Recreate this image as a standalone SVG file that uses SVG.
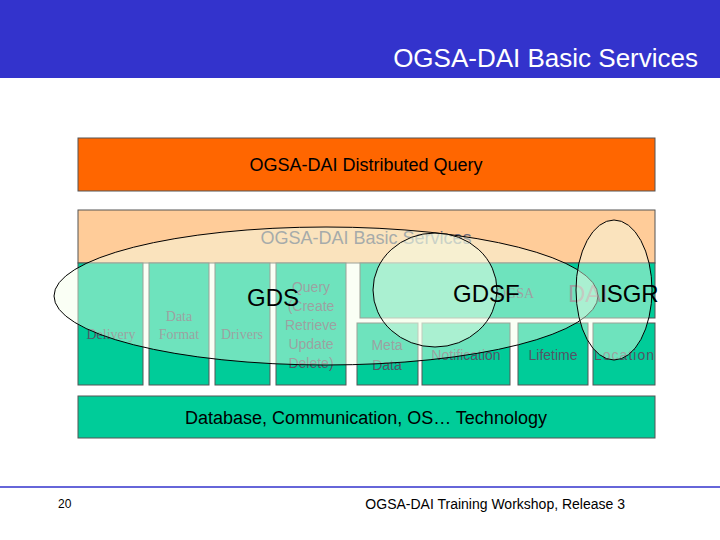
<svg xmlns="http://www.w3.org/2000/svg" width="720" height="540" viewBox="0 0 720 540">
<style>
text{font-family:"Liberation Sans",Arial,sans-serif}
.s{font-family:"Liberation Serif","Times New Roman",serif}
.g{fill:#00cc99;stroke:#555;stroke-width:1}
.e{fill:#f4ffe8;fill-opacity:0.45;stroke:#000;stroke-width:1}
.t{fill:#556;font-size:14px;text-anchor:middle}
</style>
<rect width="720" height="540" fill="#fff"/>
<rect width="720" height="78" fill="#3333cc"/>
<text x="698" y="67" font-size="26" fill="#fff" text-anchor="end">OGSA-DAI Basic Services</text>
<g id="dq"><rect x="78" y="138" width="577" height="53" fill="#ff6600" stroke="#555"/>
<text x="366" y="171" font-size="18" text-anchor="middle">OGSA-DAI Distributed Query</text></g>
<g id="bs"><rect x="78" y="210" width="577" height="53" fill="#ffcc99" stroke="#555"/>
<text x="366" y="244" font-size="18" fill="#667" text-anchor="middle">OGSA-DAI Basic Services</text></g>
<g id="delivery"><rect class="g" x="78" y="263" width="65" height="122"/></g>
<g id="format"><rect class="g" x="149" y="263" width="60" height="122"/></g>
<g id="drivers"><rect class="g" x="215" y="263" width="55" height="122"/></g>
<g id="query"><rect class="g" x="276" y="263" width="70" height="122"/></g>
<g id="ogsa"><rect class="g" x="360" y="263" width="295" height="55"/></g>
<g id="meta"><rect class="g" x="357" y="323" width="61" height="62"/></g>
<g id="notif"><rect class="g" x="422" y="323" width="88" height="62"/></g>
<g id="life"><rect class="g" x="518" y="323" width="70" height="62"/></g>
<g id="loc"><rect class="g" x="593" y="323" width="62" height="62"/></g>
<g id="tech"><rect class="g" x="78" y="396" width="577" height="42"/>
<text x="366" y="424" font-size="18" text-anchor="middle">Database, Communication, OS… Technology</text></g>
<text class="t s" x="111" y="339" fill="#333" font-size="15">Delivery</text>
<text class="t s" x="179" y="321" font-size="15">Data</text>
<text class="t s" x="179" y="339" font-size="15">Format</text>
<text class="t s" x="242" y="339" font-size="15">Drivers</text>
<text class="t" x="311" y="292">Query</text>
<text class="t" x="311" y="311">(Create</text>
<text class="t" x="311" y="330">Retrieve</text>
<text class="t" x="311" y="349">Update</text>
<text class="t" x="311" y="368">Delete)</text>
<text class="t s" x="515" y="298" font-size="16">OGSA</text>
<text x="568" y="302" font-size="24" fill="#556">DAI</text>
<text class="t" x="387" y="350" fill="#778">Meta</text>
<text class="t" x="387" y="370" fill="#000">Data</text>
<text class="t" x="466" y="360">Notification</text>
<text class="t" x="553" y="360" fill="#000">Lifetime</text>
<text class="t" x="624" y="360" fill="#000" textLength="60">Location</text>
<g id="ellipses">
<ellipse class="e" cx="326" cy="296" rx="272" ry="69"/>
<ellipse class="e" cx="435" cy="290" rx="62" ry="57"/>
<ellipse class="e" cx="614" cy="290" rx="38" ry="70"/>
</g>
<text x="247" y="306" font-size="24">GDS</text>
<text x="453" y="302" font-size="24">GDSF</text>
<text x="600" y="302" font-size="24">ISGR</text>
<line x1="0" y1="487" x2="720" y2="487" stroke="#3333cc" stroke-width="1.5"/>
<text x="58" y="508" font-size="12">20</text>
<text x="625" y="509" font-size="14" text-anchor="end">OGSA-DAI Training Workshop, Release 3</text>
</svg>
